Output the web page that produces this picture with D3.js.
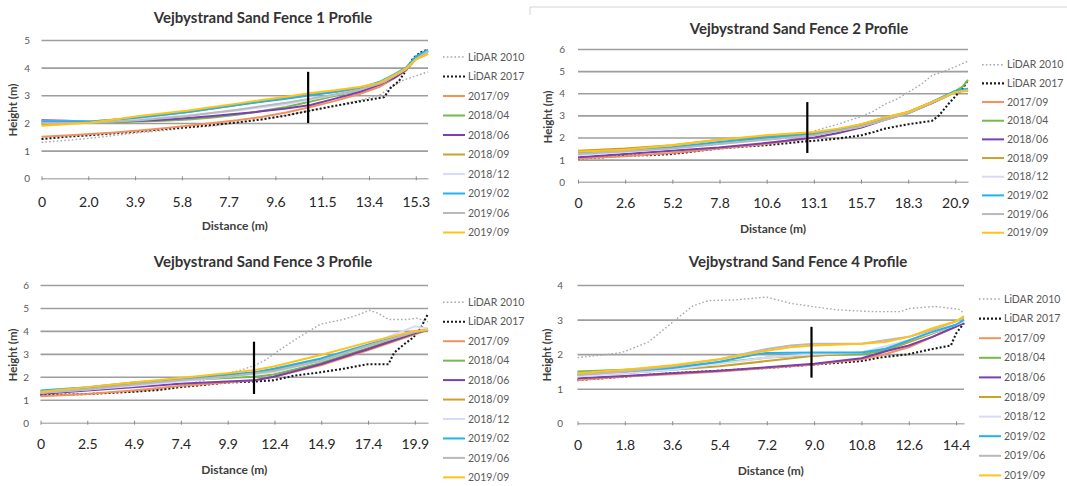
<!DOCTYPE html>
<html><head><meta charset="utf-8">
<script src="https://cdn.jsdelivr.net/npm/d3@7"></script>
<style>body{margin:0;background:#fff}svg{display:block}</style>
</head><body>
<svg id="c" width="1067" height="486"></svg>
<script>
// ---------- DATA ----------
const seriesNames = ["LiDAR 2010","LiDAR 2017","2017/09","2018/04","2018/06","2018/09","2018/12","2019/02","2019/06","2019/09"];
const seriesColors = ["#a9a9a9","#1a1a1a","#f4915a","#76b94c","#7a3fb0","#c9a227","#d9d9fb","#1fb4ee","#b9b9b9","#ffc21a"];

const titles = ["Vejbystrand Sand Fence 1 Profile","Vejbystrand Sand Fence 2 Profile","Vejbystrand Sand Fence 3 Profile","Vejbystrand Sand Fence 4 Profile"];
const f1XLabels = ["0","2.0","3.9","5.8","7.7","9.6","11.5","13.4","15.3"];
const f2XLabels = ["0","2.6","5.2","7.8","10.6","13.1","15.7","18.3","20.9"];
const f3XLabels = ["0","2.5","4.9","7.4","9.9","12.4","14.9","17.4","19.9"];
const f4XLabels = ["0","1.8","3.6","5.4","7.2","9.0","10.8","12.6","14.4"];
const xTickSteps = [1.9125, 2.6125, 2.4875, 1.8];
const xMaxes = [15.8, 21.6, 20.6, 14.7];
const yMaxes = [5, 6, 6, 4];
const fencePos = [[10.9, 2.0, 3.85], [12.7, 1.3, 3.6], [11.35, 1.25, 3.53], [8.9, 1.32, 2.79]];

// Fence 1
const f1_lidar2010 = [[0,1.3],[1,1.37],[2,1.45],[3,1.55],[4,1.65],[5,1.73],[6,1.82],[7,1.9],[8,2.0],[9,2.12],[10,2.28],[11,2.45],[12,2.62],[13,2.82],[13.8,3.0],[14.3,3.3],[14.8,3.55],[15.3,3.7],[15.8,3.85]];
const f1_lidar2017 = [[0,1.42],[1,1.5],[2,1.56],[3,1.63],[4,1.7],[5,1.78],[6,1.85],[7,1.93],[8,2.02],[9,2.13],[10,2.27],[11,2.45],[12,2.62],[13,2.78],[13.6,2.87],[14.0,2.93],[14.3,3.3],[14.6,3.5],[14.9,3.9],[15.2,4.35],[15.5,4.55],[15.8,4.65]];
const f1_201709 = [[0,1.5],[1,1.55],[2,1.6],[3,1.66],[4,1.73],[5,1.81],[6,1.9],[7,2.0],[8,2.1],[9,2.22],[10,2.38],[11,2.58],[12,2.8],[13,3.05],[13.8,3.3],[14.4,3.6],[14.9,3.9],[15.3,4.3],[15.8,4.6]];
const f1_201804 = [[0,2.0],[1,2.0],[2,2.0],[3,2.02],[4,2.05],[5,2.08],[6,2.13],[7,2.2],[8,2.3],[9,2.43],[10,2.58],[11,2.78],[12,2.98],[13,3.18],[13.8,3.4],[14.4,3.65],[14.9,3.95],[15.3,4.35],[15.8,4.6]];
const f1_201806 = [[0,2.1],[1,2.08],[2,2.05],[3,2.05],[4,2.08],[5,2.12],[6,2.18],[7,2.25],[8,2.33],[9,2.42],[10,2.52],[11,2.65],[12,2.88],[13,3.12],[13.8,3.38],[14.4,3.62],[14.9,3.92],[15.3,4.35],[15.8,4.6]];
const f1_201809 = [[0,1.95],[1,2.0],[2,2.05],[3,2.13],[4,2.2],[5,2.3],[6,2.4],[7,2.52],[8,2.65],[9,2.78],[10,2.9],[11,3.03],[12,3.13],[13,3.25],[13.8,3.42],[14.4,3.7],[14.9,3.95],[15.3,4.3],[15.8,4.5]];
const f1_201812 = [[0,2.05],[2,2.05],[4,2.15],[6,2.28],[8,2.45],[10,2.68],[11,2.85],[12,3.02],[13,3.2],[14,3.5],[14.9,3.95],[15.3,4.3],[15.8,4.6]];
const f1_201902 = [[0,2.05],[1,2.05],[2,2.05],[3,2.12],[4,2.2],[5,2.3],[6,2.4],[7,2.52],[8,2.65],[9,2.77],[10,2.88],[11,3.0],[12,3.12],[13,3.27],[13.8,3.48],[14.4,3.75],[14.9,4.0],[15.3,4.4],[15.8,4.65]];
const f1_201906 = [[0,2.0],[2,2.0],[4,2.1],[6,2.25],[8,2.48],[10,2.73],[11,2.88],[12,3.03],[13,3.2],[14,3.48],[14.9,3.95],[15.3,4.3],[15.8,4.6]];
const f1_201909 = [[0,1.9],[1,1.95],[2,2.02],[3,2.13],[4,2.25],[5,2.35],[6,2.45],[7,2.58],[8,2.7],[9,2.83],[10,2.95],[11,3.08],[12,3.18],[13,3.3],[13.8,3.45],[14.4,3.72],[14.9,3.97],[15.3,4.3],[15.8,4.5]];

// Fence 2
const f2_lidar2010 = [[0,1.05],[1.3,1.1],[2.6,1.18],[3.9,1.22],[5.2,1.28],[6.5,1.38],[7.8,1.5],[9.1,1.6],[10.4,1.72],[11.7,1.88],[12.5,2.05],[13.1,2.3],[14.4,2.6],[15.7,2.95],[16.4,3.2],[17,3.5],[17.7,3.75],[18.3,4.05],[19,4.4],[19.6,4.8],[20.3,5.0],[20.9,5.2],[21.6,5.45]];
const f2_lidar2017 = [[0,1.05],[1.3,1.1],[2.6,1.18],[3.9,1.2],[5.2,1.25],[6.5,1.38],[7.8,1.5],[9.1,1.58],[10.4,1.65],[11.7,1.75],[12.5,1.82],[13.1,1.85],[14.4,1.95],[15.7,2.1],[16.4,2.25],[17,2.4],[18.3,2.6],[19.6,2.75],[20.0,3.0],[20.5,3.5],[21,3.95],[21.3,4.2],[21.6,4.6]];
const f2_201709 = [[0,1.05],[2.6,1.15],[5.2,1.3],[7.8,1.5],[10.4,1.7],[13.1,2.0],[14.4,2.2],[15.7,2.5],[17,2.8],[18.3,3.1],[19.6,3.55],[20.9,4.05],[21.6,4.15]];
const f2_201804 = [[0,1.3],[2.6,1.4],[5.2,1.55],[7.8,1.75],[10.4,1.95],[13.1,2.15],[14.4,2.3],[15.7,2.55],[17,2.85],[18.3,3.15],[19.6,3.6],[20.9,4.1],[21.3,4.3],[21.6,4.6]];
const f2_201806 = [[0,1.1],[2.6,1.25],[5.2,1.4],[7.8,1.55],[10.4,1.75],[13.1,2.0],[14.4,2.2],[15.7,2.45],[17,2.8],[18.3,3.1],[19.6,3.55],[20.9,4.05],[21.6,4.15]];
const f2_201809 = [[0,1.4],[2.6,1.5],[5.2,1.65],[7.8,1.9],[10.4,2.05],[13.1,2.2],[14.4,2.35],[15.7,2.6],[17,2.9],[18.3,3.15],[19.6,3.6],[20.9,4.05],[21.6,4.15]];
const f2_201812 = [[0,1.2],[5.2,1.5],[10.4,1.9],[13.1,2.1],[15.7,2.5],[18.3,3.1],[20.9,4.05],[21.6,4.2]];
const f2_201902 = [[0,1.3],[2.6,1.4],[5.2,1.55],[7.8,1.8],[10.4,2.0],[13.1,2.15],[15.7,2.55],[18.3,3.1],[20.9,4.1],[21.6,4.2]];
const f2_201906 = [[0,1.25],[5.2,1.5],[10.4,1.9],[13.1,2.1],[15.7,2.5],[18.3,3.1],[20.9,4.05],[21.6,4.15]];
const f2_201909 = [[0,1.35],[2.6,1.45],[5.2,1.65],[7.8,1.9],[10.4,2.1],[13.1,2.25],[14.4,2.4],[15.7,2.6],[17,2.9],[18.3,3.15],[19.6,3.6],[20.9,4.05],[21.6,4.1]];

// Fence 3
const f3_lidar2010 = [[0,1.2],[1.2,1.22],[2.5,1.25],[3.7,1.3],[4.9,1.35],[6.2,1.45],[7.4,1.6],[8.7,1.85],[9.9,2.15],[10.7,2.3],[11.4,2.5],[12.0,2.75],[12.5,3.05],[13.5,3.6],[14.3,4.0],[14.9,4.3],[16.1,4.5],[16.9,4.7],[17.5,4.9],[18.0,4.75],[18.5,4.5],[19.5,4.5],[20.0,4.55],[20.6,4.4]];
const f3_lidar2017 = [[0,1.2],[1.2,1.22],[2.5,1.25],[3.7,1.3],[4.9,1.35],[6.2,1.42],[7.4,1.55],[8.7,1.65],[9.9,1.75],[11.4,1.8],[12.4,1.85],[13.5,2.05],[14.9,2.2],[16.1,2.35],[17.4,2.55],[18.5,2.55],[18.8,3.05],[19.3,3.4],[19.8,3.7],[20.2,4.1],[20.6,4.75]];
const f3_201709 = [[0,1.15],[2.5,1.25],[4.9,1.4],[7.4,1.6],[9.9,1.75],[11.4,1.85],[12.4,2.0],[14.9,2.5],[17.4,3.15],[19.9,3.85],[20.6,4.05]];
const f3_201804 = [[0,1.35],[2.5,1.5],[4.9,1.7],[7.4,1.85],[9.9,1.95],[11.4,2.0],[12.4,2.1],[14.9,2.6],[17.4,3.25],[19.9,3.9],[20.6,4.05]];
const f3_201806 = [[0,1.25],[2.5,1.4],[4.9,1.55],[7.4,1.7],[9.9,1.8],[11.4,1.85],[12.4,2.0],[14.9,2.55],[17.4,3.2],[19.9,3.9],[20.6,4.05]];
const f3_201809 = [[0,1.3],[2.5,1.5],[4.9,1.7],[7.4,1.9],[9.9,2.05],[11.4,2.15],[12.4,2.3],[14.9,2.75],[17.4,3.35],[19.9,3.95],[20.6,4.05]];
const f3_201812 = [[0,1.3],[2.5,1.45],[4.9,1.6],[7.4,1.8],[9.9,2.0],[12.4,2.2],[14.9,2.7],[17.4,3.4],[19.9,4.2],[20.6,4.1]];
const f3_201902 = [[0,1.4],[2.5,1.55],[4.9,1.75],[7.4,1.9],[9.9,2.1],[11.4,2.2],[12.4,2.35],[14.9,2.8],[17.4,3.4],[19.9,3.95],[20.6,4.05]];
const f3_201906 = [[0,1.3],[2.5,1.45],[4.9,1.65],[7.4,1.85],[9.9,2.0],[12.4,2.25],[14.9,2.7],[17.4,3.35],[19.9,3.95],[20.6,4.05]];
const f3_201909 = [[0,1.35],[2.5,1.55],[4.9,1.75],[7.4,1.95],[9.9,2.15],[11.4,2.3],[12.4,2.45],[14.9,2.95],[17.4,3.5],[19.9,4.0],[20.6,4.05]];

// Fence 4
const f4_lidar2010 = [[0,1.9],[0.9,1.97],[1.7,2.05],[2.7,2.35],[3.5,2.85],[3.9,3.1],[4.4,3.4],[5.0,3.55],[6.0,3.57],[7.2,3.65],[8.1,3.47],[9.0,3.37],[9.9,3.28],[11.2,3.23],[12.3,3.23],[12.6,3.32],[13.6,3.38],[14.5,3.3],[14.7,3.18]];
const f4_lidar2017 = [[0,1.25],[1.8,1.35],[3.6,1.45],[5.4,1.52],[7.2,1.6],[9.0,1.7],[10.8,1.8],[11.5,1.9],[12.6,2.0],[13.5,2.15],[14.2,2.25],[14.4,2.6],[14.7,2.9]];
const f4_201709 = [[0,1.25],[1.8,1.35],[3.6,1.42],[5.4,1.5],[7.2,1.6],[9.0,1.7],[10.8,1.85],[11.7,2.0],[12.6,2.2],[13.5,2.5],[14.4,2.8],[14.7,2.9]];
const f4_201804 = [[0,1.5],[1.8,1.55],[3.6,1.62],[5.4,1.75],[7.2,1.9],[9.0,1.97],[10.8,2.0],[11.7,2.1],[12.6,2.35],[13.5,2.6],[14.4,2.85],[14.7,2.95]];
const f4_201806 = [[0,1.3],[1.8,1.37],[3.6,1.45],[5.4,1.52],[7.2,1.62],[9.0,1.72],[10.8,1.88],[11.8,2.1],[12.6,2.25],[13.5,2.5],[14.4,2.8],[14.7,2.9]];
const f4_201809 = [[0,1.4],[1.8,1.45],[3.6,1.55],[5.4,1.65],[7.2,1.8],[9.0,1.95],[10.8,2.05],[11.7,2.15],[12.6,2.35],[13.5,2.6],[14.4,2.85],[14.7,2.95]];
const f4_201812 = [[0,1.35],[3.6,1.55],[7.2,1.9],[9.0,2.0],[10.8,2.05],[12.6,2.4],[14.4,2.85],[14.7,2.95]];
const f4_201902 = [[0,1.45],[1.8,1.5],[3.6,1.6],[5.4,1.78],[6.8,2.0],[7.2,2.03],[9.0,2.05],[10.8,2.05],[11.7,2.15],[12.6,2.4],[13.5,2.65],[14.4,2.85],[14.7,3.0]];
const f4_201906 = [[0,1.4],[1.8,1.5],[3.6,1.65],[5.4,1.85],[7.2,2.15],[8.1,2.25],[9.0,2.3],[10.8,2.3],[12.6,2.5],[13.5,2.7],[14.4,2.95],[14.7,3.05]];
const f4_201909 = [[0,1.45],[1.8,1.55],[3.6,1.68],[5.4,1.85],[7.2,2.1],[8.1,2.2],[9.0,2.25],[10.8,2.3],[11.7,2.35],[12.6,2.5],[13.5,2.75],[14.4,2.95],[14.7,3.1]];

const panelSeries = [
  [f1_lidar2010,f1_lidar2017,f1_201709,f1_201804,f1_201806,f1_201809,f1_201812,f1_201902,f1_201906,f1_201909],
  [f2_lidar2010,f2_lidar2017,f2_201709,f2_201804,f2_201806,f2_201809,f2_201812,f2_201902,f2_201906,f2_201909],
  [f3_lidar2010,f3_lidar2017,f3_201709,f3_201804,f3_201806,f3_201809,f3_201812,f3_201902,f3_201906,f3_201909],
  [f4_lidar2010,f4_lidar2017,f4_201709,f4_201804,f4_201806,f4_201809,f4_201812,f4_201902,f4_201906,f4_201909]
];
const panelXLabels = [f1XLabels, f2XLabels, f3XLabels, f4XLabels];

// ---------- LAYOUT ----------
const layout = [
  {left:41.5, right:428, y0:178.3, yTop:40,  titleX:263, titleY:17.5, xLabY:202, xTitleY:226, yTitleX:13,  yTitleY:110, yLabR:30,  legX:443, legY:57,  legDy:19.5},
  {left:578,  right:968, y0:181.7, yTop:49,  titleX:799, titleY:29,   xLabY:203, xTitleY:229, yTitleX:548, yTitleY:117, yLabR:565, legX:982, legY:64.7,legDy:18.67},
  {left:40.5, right:428, y0:422.7, yTop:285, titleX:263, titleY:261.7,xLabY:444, xTitleY:470, yTitleX:13,  yTitleY:355, yLabR:29,  legX:443, legY:302.3,legDy:19.45},
  {left:577.5,right:964, y0:423.3, yTop:285, titleX:798, titleY:262,  xLabY:445, xTitleY:471, yTitleX:547, yTitleY:355, yLabR:563, legX:979, legY:299, legDy:19.6}
];

const FONT = "Lato, 'Open Sans', 'Liberation Sans', sans-serif";
const svg = d3.select("#c").style("font-family", FONT);

// frame corner of the top-right panel
svg.append("path").attr("d","M530,15V7H1067").attr("fill","none").attr("stroke","#d4d4d4").attr("stroke-width",1);

function styleFor(i){
  if(i===0) return {w:1.4, dash:"1.6,2.2"};
  if(i===1) return {w:2.1, dash:"2,2"};
  return {w:2, dash:null};
}

layout.forEach((L, p) => {
  const g = svg.append("g");
  const x = d3.scaleLinear().domain([0, xMaxes[p]]).range([L.left, L.right]);
  const y = d3.scaleLinear().domain([0, yMaxes[p]]).range([L.y0, L.yTop]);
  const yTicks = d3.range(0, yMaxes[p] + 1);
  const labels = panelXLabels[p];
  const xTickVals = labels.map((_, i) => i * xTickSteps[p]);

  // y axis with gridlines
  const ya = g.append("g").attr("transform", `translate(${L.left},0)`)
    .call(d3.axisLeft(y).tickValues(yTicks).tickSize(-(L.right - L.left)).tickFormat(d3.format("d")));
  ya.select(".domain").remove();
  ya.selectAll(".tick line").attr("stroke", d => d === 0 ? "none" : "#9e9e9e").attr("stroke-width", 1.6);
  ya.selectAll(".tick text").attr("x", L.yLabR - L.left).attr("dy", "0.35em").attr("text-anchor","end")
    .attr("fill", "#595959").style("font-size", "10px").style("font-family", FONT);

  // x axis
  const xa = g.append("g").attr("transform", `translate(0,${y(0)})`)
    .call(d3.axisBottom(x).tickValues(xTickVals).tickSizeOuter(0).tickSizeInner(2).tickFormat((d, i) => labels[i]));
  xa.select(".domain").attr("stroke", "#b5b5b5").attr("stroke-width", 1.5);
  xa.selectAll(".tick line").attr("stroke", "#8a8a8a").attr("y1", -2).attr("y2", 2).attr("stroke-width", 1);
  xa.selectAll(".tick text").attr("y", L.xLabY - y(0)).attr("dy", "0.35em")
    .attr("fill", "#262626").style("font-size", "14px").style("font-family", FONT);

  // series lines
  const line = d3.line().x(d => x(d[0])).y(d => y(d[1]));
  panelSeries[p].forEach((pts, i) => {
    const s = styleFor(i);
    g.append("path").datum(pts).attr("d", line).attr("fill", "none")
      .attr("stroke", seriesColors[i]).attr("stroke-width", s.w)
      .attr("stroke-dasharray", s.dash).attr("stroke-linejoin", "round");
  });

  // fence marker
  const f = fencePos[p];
  g.append("line").attr("x1", x(f[0])).attr("x2", x(f[0])).attr("y1", y(f[1])).attr("y2", y(f[2]))
    .attr("stroke", "#000").attr("stroke-width", 2.2);

  // titles
  g.append("text").attr("x", L.titleX).attr("y", L.titleY).attr("dy", "0.35em").attr("text-anchor", "middle")
    .attr("font-weight", "bold").attr("fill", "#333").style("font-size", "15px").text(titles[p]);
  g.append("text").attr("x", (L.left + L.right) / 2).attr("y", L.xTitleY).attr("dy", "0.35em").attr("text-anchor", "middle")
    .attr("font-weight", "bold").attr("fill", "#404040").style("font-size", "12px").text("Distance (m)");
  g.append("text").attr("transform", `translate(${L.yTitleX},${L.yTitleY}) rotate(-90)`).attr("dy", "0.35em")
    .attr("text-anchor", "middle").attr("font-weight", "bold").attr("fill", "#404040").style("font-size", "11.5px").text("Height (m)");

  // legend
  const lg = g.append("g");
  seriesNames.forEach((name, i) => {
    const s = styleFor(i);
    const yy = L.legY + i * L.legDy;
    lg.append("line").attr("x1", L.legX).attr("x2", L.legX + 22).attr("y1", yy).attr("y2", yy)
      .attr("stroke", seriesColors[i]).attr("stroke-width", s.w).attr("stroke-dasharray", s.dash);
    lg.append("text").attr("x", L.legX + 25).attr("y", yy).attr("dy", "0.35em")
      .attr("fill", "#595959").style("font-size", "10.5px").text(name);
  });
});
</script>
</body></html>
